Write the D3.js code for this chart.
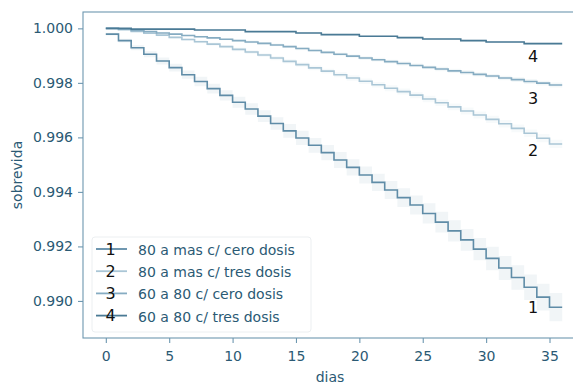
<!DOCTYPE html>
<html lang="es">
<head>
<meta charset="utf-8">
<title>Curvas de sobrevida</title>
<script src="https://cdn.jsdelivr.net/npm/d3@7"></script>
<style>
  body { margin: 0; background: #fff; }
  svg { display: block; font-family: "DejaVu Sans", sans-serif; }
</style>
</head>
<body>
<script>
// days of follow-up
var dias = [0,1,2,3,4,5,6,7,8,9,10,11,12,13,14,15,16,17,18,19,20,21,22,23,24,25,26,27,28,29,30,31,32,33,34,35,36];

// survival by day (step after)
var serie1 = [0.99979,0.99955,0.99929,0.99905,0.99880,0.99856,0.99830,0.99805,0.99779,0.99754,0.99729,0.99704,0.99678,0.99651,0.99624,0.99598,0.99571,0.99544,0.99517,0.99490,0.99462,0.99435,0.99407,0.99379,0.99352,0.99321,0.99289,0.99257,0.99224,0.99190,0.99156,0.99121,0.99086,0.99050,0.99014,0.98977,0.98977];
var serie2 = [1.00000,0.99995,0.99989,0.99982,0.99975,0.99967,0.99959,0.99951,0.99942,0.99933,0.99923,0.99913,0.99902,0.99891,0.99879,0.99867,0.99855,0.99843,0.99830,0.99818,0.99806,0.99793,0.99780,0.99768,0.99755,0.99741,0.99727,0.99712,0.99697,0.99682,0.99666,0.99650,0.99633,0.99615,0.99597,0.99576,0.99576];
var serie3 = [1.00000,0.99997,0.99992,0.99988,0.99983,0.99979,0.99974,0.99969,0.99965,0.99960,0.99955,0.99950,0.99945,0.99939,0.99933,0.99926,0.99919,0.99912,0.99905,0.99898,0.99891,0.99885,0.99878,0.99871,0.99864,0.99857,0.99851,0.99844,0.99838,0.99831,0.99825,0.99818,0.99812,0.99805,0.99799,0.99792,0.99792];
var serie4 = [1.00000,1.00000,0.99997,0.99997,0.99997,0.99997,0.99997,0.99994,0.99994,0.99994,0.99994,0.99988,0.99988,0.99988,0.99988,0.99983,0.99983,0.99977,0.99977,0.99977,0.99971,0.99971,0.99971,0.99966,0.99966,0.99961,0.99961,0.99961,0.99955,0.99955,0.99950,0.99950,0.99950,0.99944,0.99944,0.99944,0.99944];

// half width of the confidence band
var ic1 = [0.00005,0.00007,0.00009,0.00011,0.00013,0.00014,0.00015,0.00017,0.00018,0.00019,0.00020,0.00021,0.00022,0.00023,0.00025,0.00026,0.00027,0.00028,0.00029,0.00030,0.00031,0.00032,0.00033,0.00034,0.00035,0.00037,0.00038,0.00039,0.00040,0.00041,0.00043,0.00044,0.00045,0.00047,0.00049,0.00052,0.00052];
var ic2 = [0.00000,0.00002,0.00003,0.00004,0.00004,0.00005,0.00005,0.00006,0.00006,0.00006,0.00007,0.00007,0.00007,0.00008,0.00008,0.00008,0.00009,0.00009,0.00009,0.00010,0.00010,0.00010,0.00011,0.00011,0.00011,0.00012,0.00012,0.00012,0.00013,0.00013,0.00013,0.00014,0.00014,0.00014,0.00015,0.00015,0.00015];
var ic3 = [0.00000,0.00001,0.00002,0.00002,0.00003,0.00003,0.00003,0.00004,0.00004,0.00004,0.00004,0.00005,0.00005,0.00005,0.00005,0.00006,0.00006,0.00006,0.00006,0.00006,0.00007,0.00007,0.00007,0.00007,0.00007,0.00007,0.00008,0.00008,0.00008,0.00008,0.00008,0.00008,0.00009,0.00009,0.00009,0.00009,0.00009];
var ic4 = [0.00000,0.00000,0.00001,0.00001,0.00001,0.00001,0.00001,0.00002,0.00002,0.00002,0.00002,0.00002,0.00002,0.00002,0.00002,0.00003,0.00003,0.00003,0.00003,0.00003,0.00003,0.00003,0.00003,0.00003,0.00003,0.00003,0.00003,0.00003,0.00004,0.00004,0.00004,0.00004,0.00004,0.00004,0.00004,0.00004,0.00004];

var nombres = ["80 a mas c/ cero dosis", "80 a mas c/ tres dosis", "60 a 80 c/ cero dosis", "60 a 80 c/ tres dosis"];
var numeros = ["1", "2", "3", "4"];
var colores = ["#5f8ca7", "#aac6d6", "#86acc2", "#4a7a95"];

var yTicks = [0.990, 0.992, 0.994, 0.996, 0.998, 1.000];
var xTicks = [0, 5, 10, 15, 20, 25, 30, 35];

var w = 573, h = 384;
var mLeft = 83, mRight = 585, mTop = 12, mBottom = 338;
var ink = "#2b5a74", spine = "#6d97b0";

var svg = d3.select("body").append("svg").attr("width", w).attr("height", h);

var xScale = d3.scaleLinear().domain([-1.8, 37.8]).range([mLeft, mRight]);
var yScale = d3.scaleLinear().domain([0.98864, 1.0006]).range([mBottom, mTop]);

var series = [serie1, serie2, serie3, serie4];
var bands = [ic1, ic2, ic3, ic4];

var line = d3.line().curve(d3.curveStepAfter)
  .x(function(d) { return xScale(d[0]); })
  .y(function(d) { return yScale(d[1]); });
var area = d3.area().curve(d3.curveStepAfter)
  .x(function(d) { return xScale(d[0]); })
  .y0(function(d) { return yScale(d[1] - d[2]); })
  .y1(function(d) { return yScale(d[1] + d[2]); });

// bands first, then lines (draw order 1..4)
series.forEach(function(s, i) {
  var pts = dias.map(function(t, k) { return [t, s[k], bands[i][k]]; });
  svg.append("path").attr("d", area(pts))
    .attr("fill", colores[i]).attr("fill-opacity", 0.09).attr("stroke", "none");
});
series.forEach(function(s, i) {
  var pts = dias.map(function(t, k) { return [t, s[k]]; });
  svg.append("path").attr("d", line(pts))
    .attr("fill", "none").attr("stroke", colores[i]).attr("stroke-width", 1.6);
});

// frame
svg.append("rect").attr("x", mLeft).attr("y", mTop)
  .attr("width", mRight - mLeft).attr("height", mBottom - mTop)
  .attr("fill", "none").attr("stroke", spine).attr("stroke-width", 1.1);

// axes
var xAxis = d3.axisBottom(xScale).tickValues(xTicks).tickSize(5).tickPadding(8);
var yAxis = d3.axisLeft(yScale).tickValues(yTicks).tickSize(5).tickPadding(5).tickFormat(d3.format(".3f"));

var gx = svg.append("g").attr("transform", "translate(0," + mBottom + ")").call(xAxis);
var gy = svg.append("g").attr("transform", "translate(" + mLeft + ",0)").call(yAxis);
[gx, gy].forEach(function(g) {
  g.select(".domain").remove();
  g.selectAll("line").attr("stroke", spine).attr("stroke-width", 1.1);
  g.selectAll("text").attr("fill", ink).attr("font-size", 14).attr("font-family", "DejaVu Sans");
});

svg.append("text").attr("x", 330).attr("y", 377)
  .attr("text-anchor", "middle").attr("dominant-baseline", "central")
  .attr("fill", ink).attr("font-size", 14).text("dias");
svg.append("text").attr("transform", "translate(17," + ((mTop + mBottom) / 2) + ") rotate(-90)")
  .attr("text-anchor", "middle").attr("dominant-baseline", "central")
  .attr("fill", ink).attr("font-size", 14).text("sobrevida");

// legend
var lg = svg.append("g");
lg.append("rect").attr("x", 92).attr("y", 237).attr("width", 219).attr("height", 95)
  .attr("rx", 3).attr("fill", "#fff").attr("fill-opacity", 0.8)
  .attr("stroke", "#eceff1").attr("stroke-width", 1);
nombres.forEach(function(n, i) {
  var yy = 249 + i * 22.2;
  lg.append("line").attr("x1", 96).attr("x2", 127).attr("y1", yy).attr("y2", yy)
    .attr("stroke", colores[i]).attr("stroke-width", 1.8);
  lg.append("text").attr("x", 138).attr("y", yy + 1).attr("dominant-baseline", "central")
    .attr("fill", ink).attr("font-size", 14).text(n);
  lg.append("text").attr("x", 110.5).attr("y", yy).attr("text-anchor", "middle")
    .attr("dominant-baseline", "central").attr("fill", "#111").attr("font-size", 16)
    .text(numeros[i]);
});

// curve numbers near the right end
var dyNum = [0, 7, 13, 13];
series.forEach(function(s, i) {
  svg.append("text").attr("x", xScale(33.7)).attr("y", yScale(s[s.length - 1]) + dyNum[i])
    .attr("text-anchor", "middle").attr("dominant-baseline", "central")
    .attr("fill", "#111").attr("font-size", 16).text(numeros[i]);
});
</script>
</body>
</html>
